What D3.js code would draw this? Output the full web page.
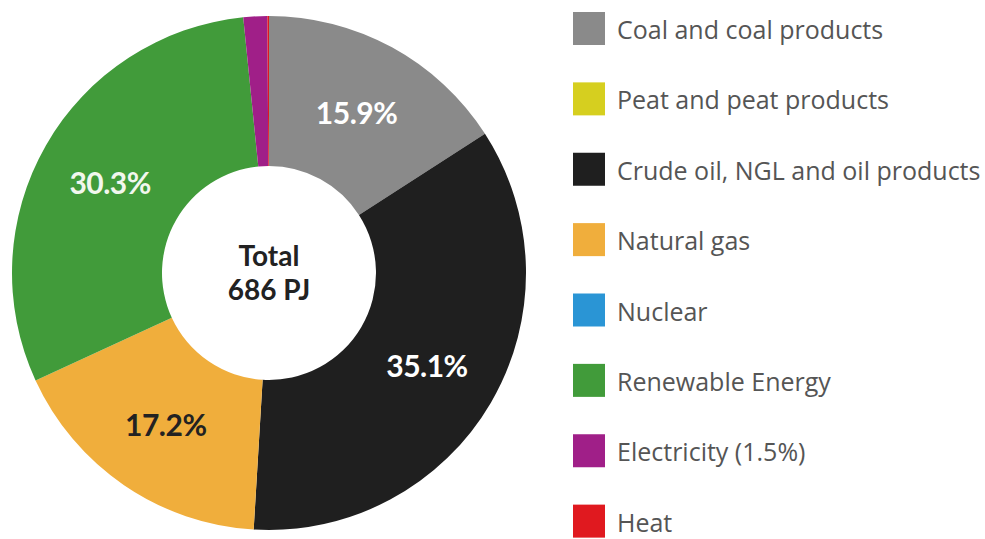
<!DOCTYPE html>
<html>
<head>
<meta charset="utf-8">
<script src="https://cdn.jsdelivr.net/npm/d3@7"></script>
<style>
  html, body { margin: 0; padding: 0; background: #fff; }
  svg { display: block; }
</style>
</head>
<body>
<svg id="chart" width="985" height="539"></svg>
<script>
// Final energy consumption by source (share of total, %)
const categories = [
  "Coal and coal products",
  "Peat and peat products",
  "Crude oil, NGL and oil products",
  "Natural gas",
  "Nuclear",
  "Renewable Energy",
  "Electricity",
  "Heat"
];
const shares = [15.9, 0, 35.1, 17.2, 0, 30.3, 1.5, 0.1];
const legendLabels = [
  "Coal and coal products",
  "Peat and peat products",
  "Crude oil, NGL and oil products",
  "Natural gas",
  "Nuclear",
  "Renewable Energy",
  "Electricity (1.5%)",
  "Heat"
];
const colors = ["#8a8a8a", "#d6cf1f", "#1f1f1f", "#f0ae3c", "#2a95d5", "#419b3a", "#a01f88", "#e0191f"];
const labelColors = ["#ffffff", "#ffffff", "#ffffff", "#222222", "#ffffff", "#f2f7ee", "#ffffff", "#ffffff"];
const labelledShareMin = 5;
const totalLines = ["Total", "686 PJ"];

const svg = d3.select("#chart");
const cx = 269, cy = 273, outerR = 257, innerR = 107, labelR = 183;

const data = categories.map((c, i) => ({ name: c, value: shares[i], color: colors[i], labelColor: labelColors[i] }));

const pie = d3.pie().value(d => d.value).sort(null);
const arc = d3.arc().innerRadius(innerR).outerRadius(outerR);
const labelArc = d3.arc().innerRadius(labelR).outerRadius(labelR);

const g = svg.append("g").attr("transform", `translate(${cx},${cy})`);
const arcs = pie(data);

g.selectAll("path.slice")
  .data(arcs.filter(d => d.data.value > 0))
  .join("path")
  .attr("class", "slice")
  .attr("d", arc)
  .attr("fill", d => d.data.color);

const fmt = d3.format(".1f");
g.selectAll("text.pct")
  .data(arcs.filter(d => d.data.value >= labelledShareMin))
  .join("text")
  .attr("class", "pct")
  .attr("transform", d => `translate(${labelArc.centroid(d)})`)
  .attr("text-anchor", "middle")
  .attr("dominant-baseline", "central")
  .attr("font-family", "Lato, sans-serif")
  .attr("font-weight", "bold")
  .attr("font-size", 30)
  .attr("letter-spacing", -0.5)
  .attr("fill", d => d.data.labelColor)
  .text(d => fmt(d.data.value) + "%");

// Centre total
g.selectAll("text.total")
  .data(totalLines)
  .join("text")
  .attr("class", "total")
  .attr("x", 0)
  .attr("y", (d, i) => -18 + i * 34)
  .attr("text-anchor", "middle")
  .attr("dominant-baseline", "central")
  .attr("font-family", "Lato, sans-serif")
  .attr("font-weight", "bold")
  .attr("font-size", 28)
  .attr("fill", "#222")
  .text(d => d);

// Legend
const legendY = d3.scaleBand().domain(d3.range(categories.length)).range([12, 575]);
const legend = svg.append("g").attr("transform", "translate(573,0)");
const rows = legend.selectAll("g.row")
  .data(data)
  .join("g")
  .attr("class", "row")
  .attr("transform", (d, i) => `translate(0,${legendY(i)})`);

rows.append("rect")
  .attr("width", 32)
  .attr("height", 33)
  .attr("fill", d => d.color);

rows.append("text")
  .attr("x", 44)
  .attr("y", 17)
  .attr("dominant-baseline", "central")
  .attr("font-family", "'Open Sans', sans-serif")
  .attr("font-size", 25)
  .attr("fill", "#555")
  .text((d, i) => legendLabels[i]);
</script>
</body>
</html>
